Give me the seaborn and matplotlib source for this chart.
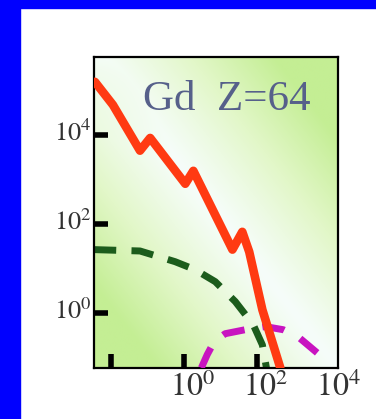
import numpy as np
import pandas as pd
import matplotlib
matplotlib.use("Agg")
import matplotlib.pyplot as plt
import matplotlib.transforms as mtransforms
from matplotlib.colors import LinearSegmentedColormap
from matplotlib.patches import Rectangle
import seaborn as sns

# --- data ---
red_x = [0.0036, 0.0112, 0.0617, 0.117, 1.07, 1.78, 20.9, 38.9, 60.3, 138, 427]
red_y = [1.55e5, 4.7e4, 4.4e3, 8.5e3, 794, 1550, 26.3, 66, 23.4, 1.17, 0.058]

green_x = [0.0034, 0.0617, 0.562, 2.0, 7.1, 25.1, 77.6, 138, 178]
green_y = [26.3, 24.5, 14.1, 9.3, 5.0, 1.78, 0.54, 0.19, 0.058]

magenta_x = [2.95, 4.27, 6.6, 13.2, 46.8, 166, 513, 1318, 4677]
magenta_y = [0.058, 0.115, 0.224, 0.339, 0.417, 0.49, 0.417, 0.288, 0.12]

x_ticks = [1e-2, 1e0, 1e2, 1e4]
x_labels = ["", r"$10^{0}$", r"$10^{2}$", r"$10^{4}$"]
y_ticks = [1e0, 1e2, 1e4]
y_labels = [r"$10^{0}$", r"$10^{2}$", r"$10^{4}$"]
title = "Gd  Z=64"

sns.set_theme(style="white")
plt.rcParams["font.family"] = ["Liberation Serif", "DejaVu Serif"]
plt.rcParams["mathtext.fontset"] = "stix"

fig = plt.figure(figsize=(3.76, 4.19), dpi=100)
fig.patch.set_facecolor("white")
# blue frame on top and left
fig.patches.append(Rectangle((0, 1 - 8 / 419), 1, 8 / 419, transform=fig.transFigure,
                             color="#0000ff", zorder=0))
fig.patches.append(Rectangle((0, 0), 20 / 376, 1, transform=fig.transFigure,
                             color="#0000ff", zorder=0))

ax = fig.add_axes([94 / 376, 1 - 368 / 419, (338 - 94) / 376, (368 - 57) / 419])

# green gradient background, white band along the diagonal
u, v = np.meshgrid(np.linspace(0, 1, 200), np.linspace(0, 1, 200))
grad = np.clip(np.abs(u + v - 1.0) * 1.35, 0, 1) ** 1.1
grad = np.maximum(grad, np.clip(1 - u * 3.0, 0, 1) * 0.55 * (1 - v) ** 0.5)
cmap = LinearSegmentedColormap.from_list("bg", ["#f6fdfa", "#e2f7c8", "#c4ee94"])
ax.imshow(grad, cmap=cmap, vmin=0, vmax=1, extent=[0, 1, 0, 1], transform=ax.transAxes,
          origin="lower", aspect="auto", zorder=0, interpolation="bilinear")

df_red = pd.DataFrame({"x": red_x, "y": red_y})
df_green = pd.DataFrame({"x": green_x, "y": green_y})
df_mag = pd.DataFrame({"x": magenta_x, "y": magenta_y})

sns.lineplot(data=df_green, x="x", y="y", ax=ax, color="#1c5c1c", lw=5,
             estimator=None, zorder=2).lines[-1].set_dashes((3.2, 2.2))
sns.lineplot(data=df_mag, x="x", y="y", ax=ax, color="#c814c0", lw=5,
             estimator=None, zorder=3).lines[-1].set_dashes((3.2, 2.6))
sns.lineplot(data=df_red, x="x", y="y", ax=ax, color="#ff3a12", lw=6.2,
             estimator=None, zorder=4)

ax.set_xscale("log")
ax.set_yscale("log")
ax.set_xlim(0.0034, 16200)
ax.set_ylim(0.0575, 5.6e5)
ax.set_xlabel("")
ax.set_ylabel("")

ax.set_xticks(x_ticks)
ax.set_xticklabels(x_labels, fontsize=23, color="#333333")
ax.set_yticks(y_ticks)
ax.set_yticklabels(y_labels, fontsize=19, color="#333333")
ax.minorticks_off()
ax.tick_params(axis="both", which="major", direction="in", length=10, width=4,
               color="black", pad=3, bottom=True, left=True)
ax.tick_params(axis="y", pad=2)
ax.xaxis.get_major_ticks()[3].tick1line.set_visible(False)

# labels in the reference sit a bit right / up of their ticks
for lab in ax.get_xticklabels():
    lab.set_transform(lab.get_transform() + mtransforms.ScaledTranslation(8 / 100, 0, fig.dpi_scale_trans))
for lab in ax.get_yticklabels():
    lab.set_transform(lab.get_transform() + mtransforms.ScaledTranslation(0, 4 / 100, fig.dpi_scale_trans))

for s in ax.spines.values():
    s.set_color("black")
    s.set_linewidth(1.6)
    s.set_visible(True)

ax.text(0.2, 0.925, title, transform=ax.transAxes, fontsize=31, color="#56608a",
        ha="left", va="top", zorder=5)

fig.savefig("out.png", dpi=100)
